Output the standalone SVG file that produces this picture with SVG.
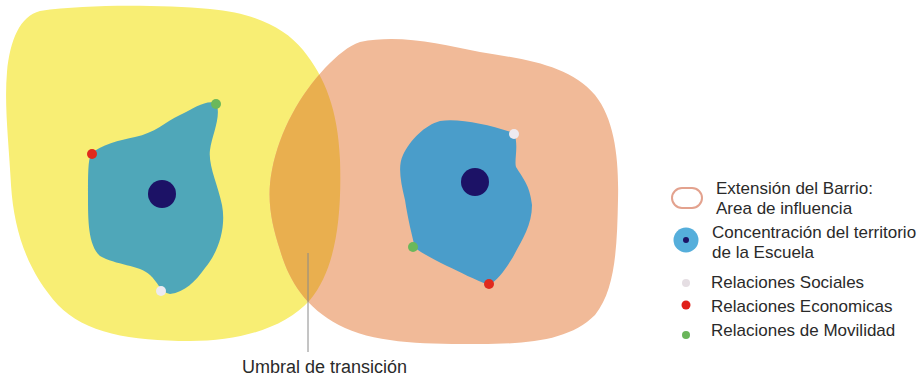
<svg xmlns="http://www.w3.org/2000/svg" width="924" height="378" viewBox="0 0 924 378">
<style>
.t{font-family:"Liberation Sans",Arial,sans-serif;font-size:17px;fill:#2a2a2a}
.lbl{font-family:"Liberation Sans",Arial,sans-serif;font-size:18px;fill:#2a2a2a}
</style>
<defs>
<path id="yel" d="M 40,11 C 90,4 160,5 210,9 C 255,13 285,28 303,50 C 325,77 338,110 340,160 C 342,220 335,270 310,300 C 285,328 240,341 190,341 C 130,341 85,333 58,305 C 28,272 14,232 11,185 C 9,145 4,105 7,72 C 10,40 20,16 40,11 Z"/>
<path id="sal" d="M 360,42 C 400,34 440,44 480,52 C 530,60 570,66 595,95 C 615,120 619,160 618,200 C 617,250 615,290 595,315 C 570,340 530,344 480,344 C 430,344 380,344 345,328 C 310,312 290,285 280,250 C 272,225 266,200 272,170 C 280,130 300,95 325,68 C 338,55 348,46 360,42 Z"/>
<clipPath id="yclip"><use href="#yel"/></clipPath>
</defs>
<rect width="924" height="378" fill="#ffffff"/>
<g id="barrio-izq">
<use href="#yel" fill="#F8EE74"/>
</g>
<g id="barrio-der">
<use href="#sal" fill="#F1BA98"/>
</g>
<g id="umbral">
<use href="#sal" fill="#E9AF4F" clip-path="url(#yclip)"/>
</g>
<g id="escuela-izq">
<path d="M 216,103 C 222,115 212,135 210,150 C 208,165 218,185 222,205 C 226,225 220,250 205,268 C 195,282 185,292 170,294 C 160,292 158,282 150,275 C 140,265 115,265 100,256 C 88,245 88,220 88,195 C 88,175 88,160 91,154 C 100,145 120,140 135,137 C 155,133 165,122 180,115 C 195,108 205,100 216,103 Z" fill="#4FA7B9"/>
<circle cx="162" cy="194" r="14" fill="#1C1266"/>
<circle cx="216" cy="104" r="5" fill="#6BB85A"/>
<circle cx="92" cy="154" r="5" fill="#E02A1E"/>
<circle cx="161" cy="291" r="5" fill="#EDEAF0"/>
</g>
<g id="escuela-der">
<path d="M 440,121 C 460,118 490,125 514,133 C 519,145 514,160 516,167 C 522,177 530,185 532,205 C 532,225 522,240 513,257 C 505,270 498,280 489,285 C 475,280 460,272 447,266 C 435,260 425,255 415,248 C 412,235 408,220 405,200 C 400,180 398,165 403,155 C 410,140 425,125 440,121 Z" fill="#4A9DCA"/>
<circle cx="475" cy="182" r="14" fill="#1C1266"/>
<circle cx="514" cy="134" r="5" fill="#EDEAF0"/>
<circle cx="413" cy="247" r="5" fill="#6BB85A"/>
<circle cx="489" cy="284" r="5" fill="#E02A1E"/>
</g>
<g id="connectors">
<path d="M 308,253 L 308,352" stroke="#8a8a8a" stroke-width="1" fill="none"/>
</g>
<g id="label-umbral">
<text class="lbl" x="242" y="373">Umbral de transición</text>
</g>
<g id="legend">
<rect x="672" y="188" width="30" height="20" rx="10" ry="10" fill="#ffffff" stroke="#E3A28E" stroke-width="2"/>
<text class="t" x="716" y="194">Extensión del Barrio:</text>
<text class="t" x="716" y="214">Area de influencia</text>
<circle cx="686" cy="240" r="12.5" fill="#55AEDB"/>
<circle cx="686" cy="240" r="3" fill="#1C1266"/>
<text class="t" x="712" y="238">Concentración del territorio</text>
<text class="t" x="712" y="258">de la Escuela</text>
<circle cx="686" cy="283" r="4" fill="#E5DEE3"/>
<text class="t" x="711" y="288">Relaciones Sociales</text>
<circle cx="686" cy="305" r="4.5" fill="#E0201A"/>
<text class="t" x="711" y="312">Relaciones Economicas</text>
<circle cx="686" cy="335" r="4" fill="#6AB55A"/>
<text class="t" x="711" y="336">Relaciones de Movilidad</text>
</g>
</svg>
